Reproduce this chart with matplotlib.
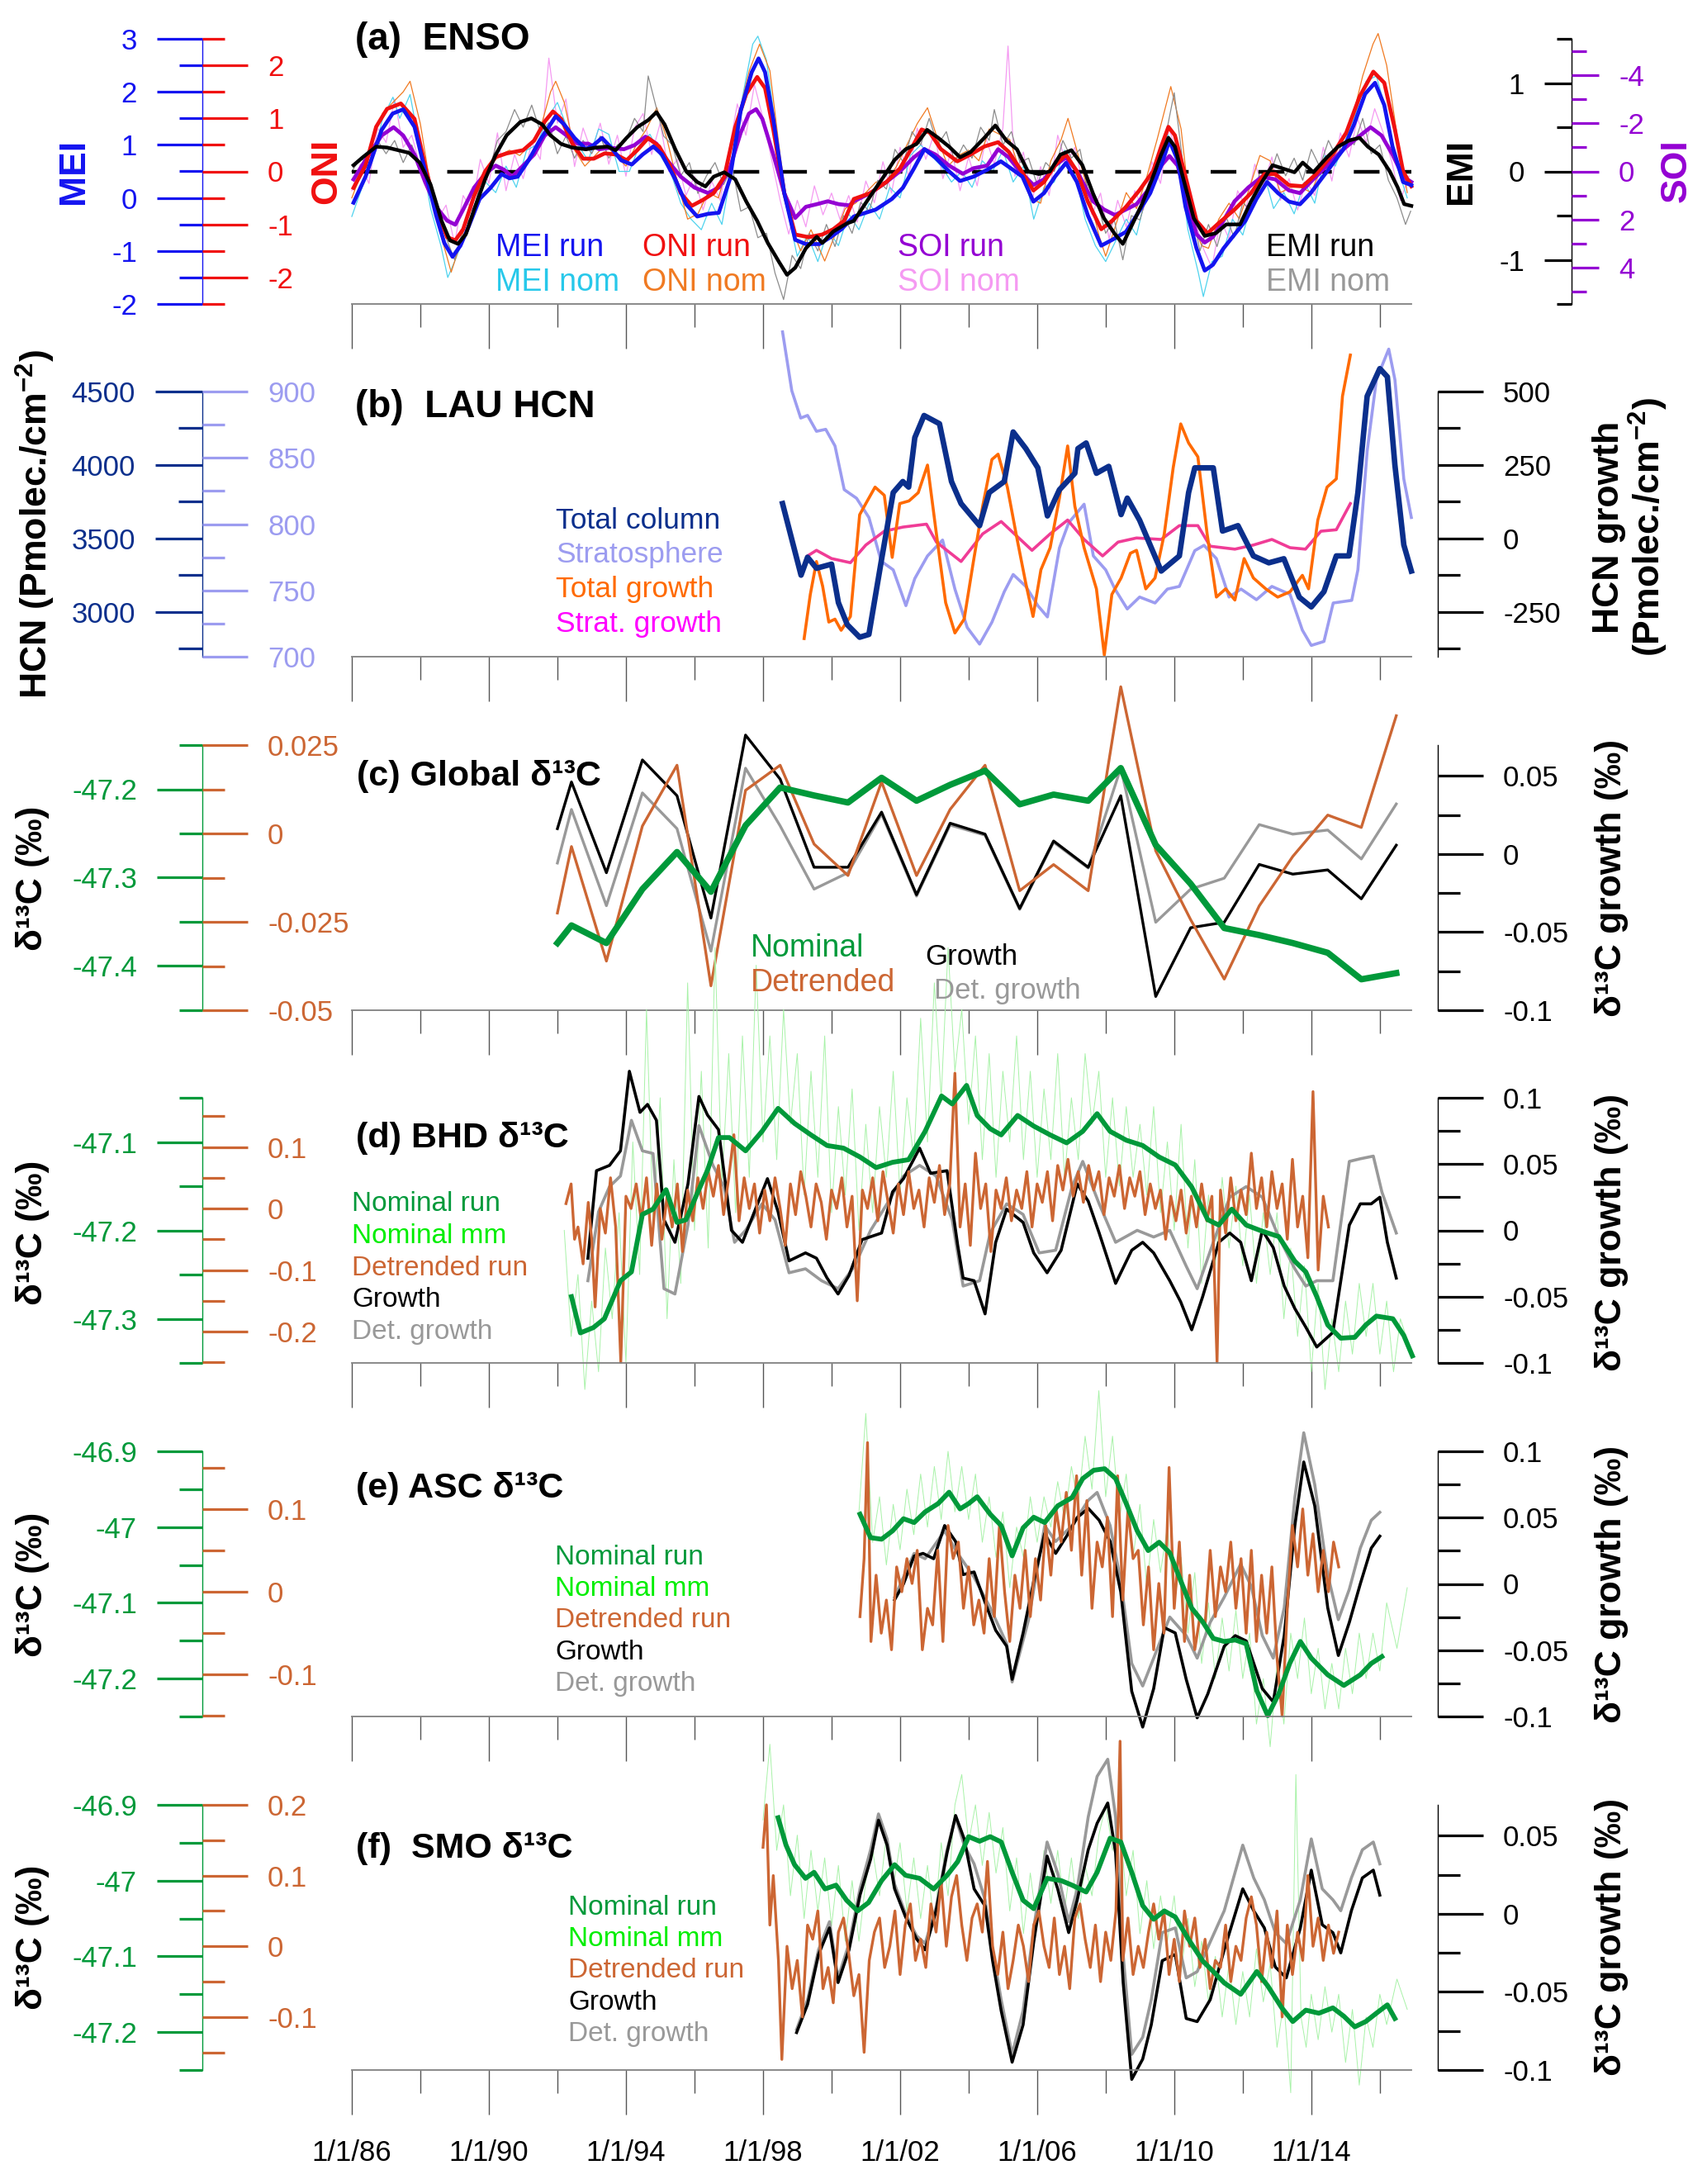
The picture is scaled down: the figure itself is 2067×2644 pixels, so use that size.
import numpy as np
import matplotlib
matplotlib.use('Agg')
import matplotlib.pyplot as plt

plt.rcParams['font.family'] = ['Liberation Sans', 'DejaVu Sans']
plt.rcParams['axes.unicode_minus'] = False
plt.rcParams['mathtext.fontset'] = 'custom'
plt.rcParams['mathtext.rm'] = 'Liberation Sans'
plt.rcParams['mathtext.bf'] = 'Liberation Sans:bold'

# ---------------- DATA ----------------
major_years = [1986, 1990, 1994, 1998, 2002, 2006, 2010, 2014]
minor_years = [1988, 1992, 1996, 2000, 2004, 2008, 2012, 2016]
date_labels = ['1/1/86', '1/1/90', '1/1/94', '1/1/98', '1/1/02', '1/1/06', '1/1/10', '1/1/14']

# (a) ENSO
mei_run = [(1986.05,-0.09),(1986.4,0.40),(1986.87,1.28),(1987.19,1.59),(1987.5,1.67),(1987.83,1.34),(1988.14,0.50),(1988.46,-0.33),(1988.7,-0.85),(1988.94,-1.11),(1989.17,-0.90),(1989.41,-0.54),(1989.73,-0.02),(1990.05,0.19),(1990.37,0.45),(1990.6,0.37),(1990.84,0.40),(1991.16,0.71),(1991.48,1.08),(1991.8,1.39),(1991.95,1.54),(1992.19,1.39),(1992.5,1.13),(1992.83,0.92),(1993.06,1.0),(1993.3,1.13),(1993.54,0.97),(1993.86,0.71),(1994.17,0.63),(1994.49,0.82),(1994.8,0.97),(1995.05,0.82),(1995.44,0.35),(1995.76,-0.12),(1996.08,-0.35),(1996.4,-0.30),(1996.71,-0.28),(1997.03,0.35),(1997.35,1.65),(1997.67,2.37),(1997.87,2.63),(1998.06,2.37),(1998.3,1.49),(1998.62,0.09),(1998.94,-0.79),(1999.25,-0.87),(1999.65,-0.87),(1999.97,-0.74),(2000.29,-0.59),(2000.65,-0.35),(2001.29,-0.22),(2001.76,-0.02),(2002.08,0.19),(2002.4,0.55),(2002.71,0.92),(2003.03,0.76),(2003.43,0.5),(2003.75,0.32),(2004.14,0.40),(2004.54,0.53),(2004.94,0.69),(2005.25,0.55),(2005.57,0.40),(2005.89,-0.07),(2006.2,0.09),(2006.52,0.40),(2006.84,0.66),(2007.16,0.30),(2007.48,-0.33),(2007.87,-0.90),(2008.19,-0.79),(2008.59,-0.64),(2008.9,-0.33),(2009.3,0.09),(2009.62,0.61),(2009.86,1.08),(2010.1,0.71),(2010.33,-0.17),(2010.65,-0.95),(2010.89,-1.37),(2011.13,-1.26),(2011.44,-0.95),(2011.76,-0.69),(2012.08,-0.43),(2012.4,-0.02),(2012.71,0.30),(2013.03,0.09),(2013.35,-0.07),(2013.67,-0.12),(2013.98,0.09),(2014.46,0.50),(2014.94,0.92),(2015.25,1.39),(2015.57,1.96),(2015.86,2.17),(2016.13,1.75),(2016.37,0.97),(2016.68,0.30),(2016.92,0.24)]
mei_nom = [(1986.0,-0.35),(1986.3,0.2),(1986.6,0.7),(1986.9,1.5),(1987.2,1.9),(1987.4,1.5),(1987.7,1.95),(1988.0,0.9),(1988.3,-0.2),(1988.6,-0.9),(1988.8,-1.5),(1989.0,-1.2),(1989.3,-0.7),(1989.6,-0.1),(1989.9,0.3),(1990.2,0.1),(1990.5,0.6),(1990.8,0.2),(1991.1,0.9),(1991.4,1.0),(1991.7,1.5),(1992.0,1.8),(1992.3,1.3),(1992.6,1.0),(1992.9,0.7),(1993.2,1.3),(1993.5,1.2),(1993.8,0.5),(1994.1,0.5),(1994.4,1.0),(1994.7,1.2),(1995.0,0.8),(1995.3,0.5),(1995.6,-0.1),(1995.9,-0.4),(1996.2,-0.6),(1996.5,-0.1),(1996.8,-0.5),(1997.1,0.6),(1997.4,1.9),(1997.7,2.9),(1997.85,3.05),(1998.1,2.6),(1998.4,1.2),(1998.7,-0.2),(1999.0,-1.1),(1999.3,-0.7),(1999.6,-1.2),(1999.9,-0.6),(2000.2,-0.9),(2000.5,-0.3),(2000.8,-0.6),(2001.1,-0.1),(2001.4,-0.4),(2001.7,0.2),(2002.0,0.0),(2002.3,0.8),(2002.6,1.0),(2002.9,0.8),(2003.2,0.6),(2003.5,0.3),(2003.8,0.5),(2004.1,0.2),(2004.4,0.7),(2004.7,0.5),(2005.0,0.9),(2005.3,0.3),(2005.6,0.6),(2005.9,-0.4),(2006.2,0.2),(2006.5,0.3),(2006.8,0.9),(2007.1,0.5),(2007.4,-0.4),(2007.7,-0.9),(2008.0,-1.2),(2008.3,-0.8),(2008.6,-0.4),(2008.9,-0.7),(2009.2,0.1),(2009.5,0.4),(2009.8,1.2),(2010.1,0.9),(2010.4,-0.6),(2010.7,-1.4),(2010.85,-1.86),(2011.1,-1.2),(2011.4,-1.1),(2011.7,-0.4),(2012.0,-0.7),(2012.3,0.0),(2012.6,0.5),(2012.9,-0.2),(2013.2,0.1),(2013.5,-0.3),(2013.8,0.3),(2014.1,-0.1),(2014.4,0.8),(2014.7,0.6),(2015.0,1.1),(2015.3,1.6),(2015.6,2.2),(2015.9,2.3),(2016.2,1.6),(2016.5,0.6),(2016.8,0.0)]
oni_run = [(1986.05,-0.31),(1986.4,0.11),(1986.71,0.84),(1987.03,1.18),(1987.43,1.28),(1987.83,0.99),(1988.14,0.11),(1988.46,-0.72),(1988.78,-1.24),(1989.02,-1.30),(1989.25,-1.09),(1989.57,-0.46),(1989.89,0.0),(1990.2,0.27),(1990.52,0.34),(1991.0,0.40),(1991.32,0.58),(1991.63,0.94),(1991.87,1.13),(1992.11,0.99),(1992.43,0.53),(1992.75,0.24),(1993.06,0.24),(1993.38,0.34),(1993.7,0.32),(1994.02,0.21),(1994.33,0.40),(1994.65,0.63),(1994.97,0.47),(1995.29,0.11),(1995.6,-0.41),(1995.92,-0.65),(1996.24,-0.54),(1996.56,-0.41),(1996.87,-0.10),(1997.19,0.84),(1997.51,1.46),(1997.83,1.78),(1998.06,1.57),(1998.3,0.79),(1998.62,-0.41),(1998.94,-1.19),(1999.33,-1.24),(1999.73,-1.19),(2000.05,-1.09),(2000.37,-0.93),(2000.65,-0.52),(2001.13,-0.41),(2001.6,-0.20),(2002.0,0.06),(2002.32,0.42),(2002.63,0.79),(2002.87,0.73),(2003.19,0.42),(2003.67,0.19),(2004.06,0.32),(2004.46,0.47),(2004.86,0.55),(2005.17,0.37),(2005.49,0.06),(2005.89,-0.36),(2006.2,-0.20),(2006.52,0.11),(2006.84,0.32),(2007.16,0.0),(2007.48,-0.57),(2007.87,-1.09),(2008.19,-0.93),(2008.59,-0.67),(2008.98,-0.36),(2009.38,0.0),(2009.62,0.47),(2009.83,0.84),(2010.02,0.68),(2010.33,-0.10),(2010.65,-0.93),(2010.97,-1.17),(2011.29,-0.98),(2011.76,-0.72),(2012.24,-0.41),(2012.63,-0.05),(2012.95,-0.05),(2013.35,-0.26),(2013.75,-0.28),(2014.14,-0.05),(2014.62,0.32),(2015.02,0.73),(2015.41,1.41),(2015.81,1.88),(2016.13,1.67),(2016.44,0.79),(2016.68,0.0),(2016.92,-0.28)]
oni_nom = [(1986.0,-0.5),(1986.3,0.0),(1986.6,0.6),(1986.9,1.1),(1987.2,1.3),(1987.5,1.5),(1987.7,1.7),(1988.0,0.9),(1988.3,-0.3),(1988.6,-1.2),(1988.9,-1.9),(1989.1,-1.5),(1989.4,-0.8),(1989.7,-0.3),(1990.0,0.1),(1990.3,0.3),(1990.6,0.4),(1990.9,0.3),(1991.2,0.5),(1991.5,0.8),(1991.8,1.5),(1991.95,1.7),(1992.2,1.3),(1992.5,0.4),(1992.8,0.1),(1993.1,0.3),(1993.4,0.5),(1993.7,0.3),(1994.0,0.1),(1994.3,0.5),(1994.6,0.8),(1994.9,1.2),(1995.2,0.6),(1995.5,-0.2),(1995.8,-0.9),(1996.1,-0.8),(1996.4,-0.4),(1996.7,-0.5),(1997.0,0.2),(1997.3,1.1),(1997.6,1.9),(1997.9,2.4),(1998.2,1.9),(1998.5,0.3),(1998.8,-1.0),(1999.1,-1.5),(1999.4,-1.1),(1999.8,-1.69),(2000.1,-1.2),(2000.4,-0.7),(2000.7,-0.6),(2001.0,-0.4),(2001.3,-0.2),(2001.6,-0.2),(2001.9,0.1),(2002.2,0.5),(2002.5,0.9),(2002.8,1.2),(2003.1,0.6),(2003.4,0.1),(2003.7,0.3),(2004.0,0.4),(2004.3,0.2),(2004.6,0.8),(2004.9,0.7),(2005.2,0.6),(2005.5,0.0),(2005.8,-0.5),(2006.1,-0.6),(2006.4,0.2),(2006.7,0.6),(2006.9,1.0),(2007.2,0.3),(2007.5,-0.4),(2007.8,-1.2),(2008.0,-1.6),(2008.3,-1.0),(2008.6,-0.4),(2008.9,-0.7),(2009.2,-0.1),(2009.5,0.6),(2009.9,1.6),(2010.2,0.8),(2010.5,-0.9),(2010.8,-1.4),(2011.0,-1.45),(2011.3,-0.9),(2011.6,-0.6),(2011.9,-0.9),(2012.2,-0.3),(2012.5,0.3),(2012.8,0.2),(2013.1,-0.4),(2013.4,-0.3),(2013.7,-0.3),(2014.0,-0.4),(2014.3,0.1),(2014.6,0.2),(2014.9,0.6),(2015.2,1.0),(2015.5,1.8),(2015.8,2.4),(2015.95,2.6),(2016.2,2.0),(2016.5,0.7),(2016.8,-0.4)]
soi_run = [(1986.05,0.33),(1986.4,-0.47),(1986.87,-1.49),(1987.22,-1.83),(1987.5,-1.49),(1987.83,-0.70),(1988.14,0.44),(1988.46,1.47),(1988.78,2.04),(1989.02,2.21),(1989.25,1.58),(1989.57,0.67),(1989.89,0.10),(1990.2,-0.24),(1990.44,-0.07),(1990.68,0.22),(1991.0,-0.24),(1991.32,-0.70),(1991.63,-1.49),(1991.95,-1.83),(1992.27,-1.49),(1992.59,-1.15),(1992.9,-1.15),(1993.22,-0.92),(1993.54,-0.98),(1993.94,-0.92),(1994.25,-1.09),(1994.57,-1.44),(1994.89,-1.15),(1995.2,-0.47),(1995.6,0.22),(1996.0,0.67),(1996.4,0.90),(1996.71,0.67),(1997.03,-0.13),(1997.35,-1.61),(1997.59,-2.40),(1997.8,-2.58),(1997.98,-2.18),(1998.3,-0.70),(1998.62,0.90),(1998.94,1.93),(1999.25,1.47),(1999.57,1.36),(1999.89,1.24),(2000.21,1.36),(2000.52,1.41),(2000.65,1.24),(2001.13,0.90),(2001.6,0.44),(2002.0,-0.01),(2002.4,-0.58),(2002.71,-0.92),(2003.03,-0.70),(2003.43,-0.24),(2003.83,0.10),(2004.14,-0.13),(2004.54,-0.24),(2004.86,-0.92),(2005.17,-0.58),(2005.49,-0.01),(2005.89,0.56),(2006.2,0.33),(2006.52,-0.24),(2006.84,-0.58),(2007.16,-0.01),(2007.63,1.24),(2007.95,1.58),(2008.27,1.81),(2008.59,1.58),(2008.9,1.36),(2009.3,0.67),(2009.62,-0.24),(2009.86,-0.64),(2010.1,-0.24),(2010.41,1.36),(2010.65,2.61),(2010.89,2.95),(2011.13,2.72),(2011.44,2.04),(2011.76,1.24),(2012.16,0.67),(2012.56,0.22),(2012.95,0.33),(2013.35,0.79),(2013.67,0.90),(2013.98,0.44),(2014.46,-0.24),(2014.94,-0.92),(2015.33,-1.38),(2015.73,-1.83),(2016.05,-1.49),(2016.37,-0.70),(2016.68,0.22),(2016.92,0.44)]
soi_nom = [(1986.0,0.8),(1986.25,-0.3),(1986.5,0.5),(1986.75,-1.8),(1987.0,-1.2),(1987.25,-3.0),(1987.5,-1.0),(1987.75,-1.5),(1988.0,-0.2),(1988.25,0.2),(1988.5,2.0),(1988.75,1.4),(1989.0,3.0),(1989.25,1.0),(1989.5,1.6),(1989.75,-0.5),(1990.0,0.5),(1990.25,-1.6),(1990.5,0.8),(1990.75,-0.7),(1991.0,0.3),(1991.25,-1.2),(1991.5,-0.5),(1991.75,-4.7),(1992.0,-2.0),(1992.25,-3.0),(1992.5,-0.2),(1992.75,-1.8),(1993.0,-0.8),(1993.25,-2.0),(1993.5,-0.3),(1993.75,-1.5),(1994.0,0.2),(1994.25,-1.8),(1994.5,-2.4),(1994.75,-0.7),(1995.0,-2.0),(1995.25,0.0),(1995.5,-0.5),(1995.75,1.0),(1996.0,0.2),(1996.25,1.6),(1996.5,0.4),(1996.75,1.2),(1997.0,-0.8),(1997.25,-2.8),(1997.5,-1.5),(1997.75,-3.6),(1998.0,-2.2),(1998.25,-0.5),(1998.5,1.2),(1998.75,2.6),(1999.0,1.2),(1999.25,2.3),(1999.5,0.6),(1999.75,1.8),(2000.0,0.9),(2000.25,2.0),(2000.5,1.0),(2000.75,2.1),(2001.0,0.4),(2001.25,1.3),(2001.5,-0.4),(2001.75,0.9),(2002.0,-1.0),(2002.25,0.2),(2002.5,-1.8),(2002.75,-0.5),(2003.0,-1.6),(2003.25,0.3),(2003.5,-0.9),(2003.75,0.8),(2004.0,-0.6),(2004.25,0.6),(2004.5,-1.4),(2004.75,-0.3),(2005.0,-1.8),(2005.15,-5.2),(2005.35,0.2),(2005.6,-0.8),(2005.85,1.2),(2006.1,-0.2),(2006.35,1.0),(2006.6,-1.5),(2006.85,-0.3),(2007.1,-1.0),(2007.35,0.6),(2007.6,1.8),(2007.85,0.9),(2008.1,2.8),(2008.35,1.2),(2008.6,2.3),(2008.85,0.8),(2009.1,1.6),(2009.35,-0.4),(2009.6,0.5),(2009.85,-1.8),(2010.1,-0.6),(2010.35,0.6),(2010.6,2.0),(2010.85,3.2),(2011.1,4.0),(2011.35,2.0),(2011.6,2.8),(2011.85,0.8),(2012.1,1.5),(2012.35,-0.3),(2012.6,0.6),(2012.85,-0.6),(2013.1,1.2),(2013.35,0.3),(2013.6,1.6),(2013.85,0.4),(2014.1,1.0),(2014.35,-1.0),(2014.6,0.4),(2014.85,-1.6),(2015.1,-0.6),(2015.35,-2.2),(2015.6,-1.2),(2015.85,-2.6),(2016.1,-1.6),(2016.35,-0.4),(2016.6,1.2),(2016.85,0.2)]
emi_run = [(1986.05,0.07),(1986.32,0.16),(1986.71,0.28),(1987.03,0.27),(1987.35,0.24),(1987.67,0.21),(1987.98,0.10),(1988.3,-0.15),(1988.62,-0.56),(1988.86,-0.78),(1989.1,-0.82),(1989.33,-0.71),(1989.57,-0.43),(1989.89,-0.09),(1990.2,0.19),(1990.52,0.41),(1990.92,0.56),(1991.24,0.60),(1991.56,0.53),(1991.79,0.41),(1992.11,0.31),(1992.43,0.27),(1992.83,0.25),(1993.14,0.27),(1993.46,0.28),(1993.7,0.24),(1994.02,0.38),(1994.33,0.50),(1994.65,0.58),(1994.89,0.67),(1995.13,0.53),(1995.44,0.25),(1995.76,0.0),(1996.08,-0.12),(1996.32,-0.17),(1996.56,-0.06),(1996.87,-0.01),(1997.19,-0.09),(1997.51,-0.34),(1997.83,-0.56),(1998.14,-0.81),(1998.46,-1.02),(1998.7,-1.17),(1998.94,-1.09),(1999.25,-0.87),(1999.57,-0.74),(1999.73,-0.81),(2000.05,-0.68),(2000.44,-0.59),(2000.65,-0.56),(2001.13,-0.28),(2001.52,-0.06),(2001.84,0.13),(2002.16,0.25),(2002.48,0.31),(2002.79,0.47),(2003.11,0.38),(2003.43,0.28),(2003.75,0.16),(2004.06,0.22),(2004.46,0.38),(2004.78,0.52),(2005.1,0.35),(2005.41,0.25),(2005.73,0.0),(2006.05,-0.03),(2006.37,0.0),(2006.68,0.19),(2007.0,0.24),(2007.32,0.07),(2007.63,-0.25),(2007.95,-0.53),(2008.27,-0.71),(2008.5,-0.82),(2008.75,-0.62),(2009.06,-0.37),(2009.38,-0.06),(2009.62,0.19),(2009.83,0.38),(2010.02,0.28),(2010.25,-0.06),(2010.57,-0.53),(2010.89,-0.73),(2011.21,-0.70),(2011.52,-0.60),(2011.92,-0.60),(2012.24,-0.34),(2012.56,-0.12),(2012.87,0.07),(2013.19,0.03),(2013.51,-0.01),(2013.75,0.10),(2014.06,-0.01),(2014.46,0.16),(2014.78,0.28),(2015.1,0.35),(2015.41,0.38),(2015.65,0.28),(2015.97,0.19),(2016.29,0.0),(2016.52,-0.18),(2016.71,-0.37),(2016.92,-0.39)]
emi_nom = [(1986.0,0.0),(1986.25,0.15),(1986.5,0.1),(1986.75,0.35),(1987.0,0.2),(1987.25,0.35),(1987.5,0.1),(1987.75,0.3),(1988.0,0.05),(1988.25,-0.05),(1988.5,-0.4),(1988.75,-0.75),(1989.0,-1.0),(1989.25,-0.65),(1989.5,-0.5),(1989.75,-0.15),(1990.0,0.0),(1990.25,0.35),(1990.5,0.45),(1990.75,0.7),(1991.0,0.5),(1991.25,0.75),(1991.5,0.45),(1991.75,0.55),(1992.0,0.2),(1992.25,0.4),(1992.5,0.15),(1992.75,0.35),(1993.0,0.2),(1993.25,0.4),(1993.5,0.15),(1993.75,0.3),(1994.0,0.35),(1994.25,0.6),(1994.5,0.45),(1994.65,1.08),(1994.9,0.7),(1995.1,0.4),(1995.35,0.3),(1995.6,-0.05),(1995.85,0.1),(1996.1,-0.25),(1996.35,-0.05),(1996.6,0.1),(1996.85,-0.15),(1997.1,0.05),(1997.35,-0.45),(1997.6,-0.4),(1997.85,-0.75),(1998.1,-0.7),(1998.35,-1.15),(1998.6,-1.45),(1998.85,-0.95),(1999.1,-1.1),(1999.35,-0.7),(1999.6,-0.9),(1999.85,-0.6),(2000.1,-0.85),(2000.35,-0.5),(2000.6,-0.7),(2000.85,-0.35),(2001.1,-0.45),(2001.35,-0.1),(2001.6,-0.2),(2001.85,0.25),(2002.1,0.1),(2002.35,0.45),(2002.6,0.3),(2002.85,0.6),(2003.1,0.3),(2003.35,0.45),(2003.6,0.1),(2003.85,0.3),(2004.1,0.15),(2004.35,0.5),(2004.6,0.35),(2004.75,0.7),(2005.0,0.3),(2005.25,0.45),(2005.5,0.1),(2005.75,0.15),(2006.0,-0.15),(2006.25,0.1),(2006.5,0.0),(2006.75,0.35),(2007.0,0.15),(2007.25,0.25),(2007.5,-0.25),(2007.75,-0.35),(2008.0,-0.7),(2008.25,-0.55),(2008.5,-1.0),(2008.75,-0.5),(2009.0,-0.55),(2009.25,-0.2),(2009.5,0.05),(2009.75,0.4),(2010.0,0.89),(2010.25,0.1),(2010.5,-0.4),(2010.75,-0.9),(2011.0,-0.6),(2011.25,-0.85),(2011.5,-0.5),(2011.75,-0.75),(2012.0,-0.35),(2012.25,-0.45),(2012.5,0.0),(2012.75,-0.1),(2013.0,0.2),(2013.25,-0.05),(2013.5,0.15),(2013.75,-0.1),(2014.0,0.25),(2014.25,0.05),(2014.5,0.35),(2014.75,0.15),(2015.0,0.45),(2015.25,0.3),(2015.5,0.6),(2015.75,0.2),(2016.0,0.3),(2016.25,-0.1),(2016.5,-0.3),(2016.75,-0.6),(2016.9,-0.45)]

# (b) LAU HCN
hcn_total = [(1998.57,3738),(1999.11,3251),(1999.3,3373),(1999.56,3298),(2000.0,3326),(2000.2,3064),(2000.46,2914),(2000.82,2829),(2001.09,2848),(2001.45,3345),(2001.8,3813),(2002.08,3888),(2002.25,3850),(2002.43,4187),(2002.7,4337),(2003.15,4281),(2003.5,3888),(2003.78,3738),(2004.32,3588),(2004.6,3813),(2005.04,3888),(2005.3,4225),(2005.67,4112),(2006.02,3981),(2006.3,3654),(2006.65,3832),(2007.1,3944),(2007.19,4112),(2007.43,4150),(2007.73,3944),(2008.09,3991),(2008.45,3663),(2008.63,3775),(2008.99,3625),(2009.62,3279),(2010.15,3382),(2010.42,3813),(2010.6,3981),(2011.14,3981),(2011.41,3551),(2011.86,3588),(2012.31,3382),(2012.76,3335),(2013.2,3363),(2013.65,3101),(2014.0,3035),(2014.37,3139),(2014.73,3382),(2015.1,3382),(2015.36,3813),(2015.63,4468),(2016.0,4656),(2016.22,4600),(2016.44,4000),(2016.7,3457),(2016.92,3279)]
hcn_strat = [(1998.57,945),(1998.84,900.6),(1999.1,880),(1999.3,882),(1999.56,870),(1999.83,871.5),(2000.1,859),(2000.37,826),(2000.73,819.5),(2001.09,805),(2001.45,772),(2001.8,765.5),(2002.17,738.5),(2002.43,759),(2002.8,776),(2003.24,788),(2003.6,751),(2003.96,722),(2004.32,709.5),(2004.68,726),(2005.04,749),(2005.3,762),(2005.67,753),(2006.02,738.5),(2006.3,730),(2006.65,782),(2006.92,801),(2007.37,815),(2007.64,776),(2008.0,765.5),(2008.27,751),(2008.63,736),(2008.99,745),(2009.44,740.5),(2009.8,751),(2010.15,753),(2010.6,780),(2010.87,784),(2011.23,774),(2011.6,745),(2011.95,751),(2012.4,743),(2012.85,753),(2013.38,747),(2013.74,720),(2014.0,708.5),(2014.37,711.5),(2014.64,740.5),(2015.18,742.5),(2015.36,765.5),(2015.63,855),(2015.9,909),(2016.26,932),(2016.44,909),(2016.7,834),(2016.92,805)]
hcn_total_growth = [(1999.2,-340),(1999.38,-190),(1999.56,-78),(1999.74,-162),(1999.92,-284),(2000.1,-274),(2000.28,-312),(2000.55,-265),(2000.82,81),(2001.0,119),(2001.27,175),(2001.54,147),(2001.77,-64),(2001.99,119),(2002.26,128),(2002.53,156),(2002.8,250),(2003.06,16),(2003.33,-218),(2003.6,-321),(2003.87,-274),(2004.14,-78),(2004.41,110),(2004.68,269),(2004.86,287),(2005.13,175),(2005.4,7),(2005.67,-153),(2005.88,-265),(2006.11,-106),(2006.38,-31),(2006.65,138),(2006.89,315),(2007.1,110),(2007.37,-31),(2007.73,-171),(2007.96,-396),(2008.18,-190),(2008.45,-134),(2008.72,-50),(2008.9,-40),(2009.17,-171),(2009.44,-134),(2009.71,16),(2009.97,241),(2010.19,390),(2010.42,325),(2010.69,278),(2010.96,16),(2011.23,-199),(2011.5,-171),(2011.77,-209),(2012.04,-68),(2012.31,-134),(2012.67,-171),(2013.02,-199),(2013.38,-181),(2013.74,-125),(2013.92,-171),(2014.19,63),(2014.46,175),(2014.73,203),(2014.91,484),(2015.14,624)]
hcn_strat_growth = [(1999.3,-59),(1999.56,-40),(2000.0,-68),(2000.55,-82),(2001.0,-22),(2001.54,25),(2002.08,39),(2002.77,49),(2003.06,-12),(2003.78,-78),(2004.41,16),(2004.95,58),(2005.85,-40),(2006.38,16),(2006.89,63),(2007.37,-3),(2007.91,-59),(2008.36,-12),(2008.9,2),(2009.62,-3),(2010.15,44),(2010.69,44),(2011.05,-26),(2011.77,-36),(2012.31,-22),(2012.85,-3),(2013.38,-31),(2013.83,-36),(2014.28,25),(2014.73,30),(2015.14,119)]

# (c) Global d13C (annual)
glob_t = [1992.0, 1992.41, 1993.43, 1994.48, 1995.49, 1996.48, 1997.49, 1998.5, 1999.49, 2000.48, 2001.46, 2002.48, 2003.46, 2004.48, 2005.49, 2006.48, 2007.49, 2008.44, 2009.46, 2010.48, 2011.46, 2012.48, 2013.46, 2014.48, 2015.46, 2016.48]
glob_nominal = [-47.374, -47.354, -47.374, -47.313, -47.271, -47.316, -47.241, -47.198, -47.207, -47.215, -47.187, -47.213, -47.195, -47.179, -47.217, -47.206, -47.213, -47.176, -47.263, -47.307, -47.357, -47.365, -47.374, -47.385, -47.415, -47.408]
glob_detrended = [-0.0225, -0.0037, -0.0361, 0.0021, 0.0193, -0.0431, 0.0122, 0.0193, -0.0030, -0.0119, 0.0146, -0.0119, 0.0068, 0.0193, -0.0162, -0.0088, -0.0162, 0.0415, -0.0049, -0.0244, -0.0412, -0.0205, -0.0065, 0.0052, 0.0017, 0.0333]
glob_growth = [0.0162, 0.0461, -0.0120, 0.0602, 0.0373, -0.0410, 0.0761, 0.0479, -0.0085, -0.0085, 0.0268, -0.0261, 0.0197, 0.0127, -0.0349, 0.0083, -0.0085, 0.0373, -0.0912, -0.0472, -0.0437, -0.0067, -0.0129, -0.0102, -0.0287, 0.0056]
glob_det_growth = [-0.0058, 0.0285, -0.0331, 0.0391, 0.0162, -0.0622, 0.0549, 0.018, -0.0225, -0.012, 0.0255, -0.027, 0.0185, 0.012, -0.0355, 0.0075, -0.009, 0.055, -0.0437, -0.0225, -0.0155, 0.0188, 0.0127, 0.0153, -0.0032, 0.032]

# (d) BHD d13C
bhd_nom_run = [(1992.41,-47.275),(1992.67,-47.316),(1993.05,-47.310),(1993.37,-47.300),(1993.84,-47.257),(1994.16,-47.247),(1994.48,-47.182),(1994.79,-47.176),(1995.17,-47.154),(1995.49,-47.191),(1995.75,-47.188),(1996.06,-47.160),(1996.38,-47.132),(1996.7,-47.095),(1997.02,-47.095),(1997.49,-47.110),(1997.97,-47.088),(1998.44,-47.062),(1998.92,-47.079),(1999.4,-47.092),(1999.87,-47.104),(2000.35,-47.107),(2000.83,-47.117),(2001.3,-47.129),(2001.78,-47.123),(2002.25,-47.120),(2002.73,-47.088),(2003.21,-47.048),(2003.52,-47.057),(2003.94,-47.036),(2004.25,-47.070),(2004.63,-47.085),(2004.95,-47.092),(2005.43,-47.070),(2005.9,-47.082),(2006.38,-47.092),(2006.86,-47.101),(2007.33,-47.088),(2007.75,-47.068),(2008.13,-47.088),(2008.6,-47.098),(2009.08,-47.104),(2009.56,-47.117),(2010.03,-47.126),(2010.51,-47.151),(2010.98,-47.188),(2011.3,-47.194),(2011.68,-47.176),(2012.1,-47.194),(2012.57,-47.201),(2013.05,-47.207),(2013.52,-47.235),(2013.84,-47.247),(2014.16,-47.275),(2014.48,-47.307),(2014.86,-47.322),(2015.27,-47.321),(2015.59,-47.307),(2015.9,-47.297),(2016.38,-47.300),(2016.7,-47.319),(2016.95,-47.342)]
bhd_nom_mm = [(1992.2,-47.20),(1992.4,-47.32),(1992.6,-47.25),(1992.8,-47.38),(1993.0,-47.28),(1993.2,-47.36),(1993.4,-47.22),(1993.6,-47.30),(1993.8,-47.18),(1994.0,-47.35),(1994.2,-47.10),(1994.4,-47.25),(1994.6,-46.95),(1994.8,-47.20),(1995.0,-47.05),(1995.2,-47.30),(1995.4,-47.12),(1995.6,-47.26),(1995.8,-46.92),(1996.0,-47.20),(1996.2,-47.02),(1996.4,-47.22),(1996.6,-46.88),(1996.8,-47.15),(1997.0,-47.00),(1997.2,-47.18),(1997.4,-46.98),(1997.6,-47.14),(1997.8,-46.90),(1998.0,-47.10),(1998.2,-46.98),(1998.4,-47.12),(1998.6,-46.95),(1998.8,-47.08),(1999.0,-47.00),(1999.2,-47.16),(1999.4,-47.02),(1999.6,-47.14),(1999.8,-46.98),(2000.0,-47.18),(2000.2,-47.06),(2000.4,-47.16),(2000.6,-47.04),(2000.8,-47.20),(2001.0,-47.08),(2001.2,-47.18),(2001.4,-47.06),(2001.6,-47.14),(2001.8,-47.02),(2002.0,-47.16),(2002.2,-47.05),(2002.4,-47.12),(2002.6,-46.96),(2002.8,-47.10),(2003.0,-46.92),(2003.2,-47.05),(2003.4,-46.88),(2003.6,-47.02),(2003.8,-46.95),(2004.0,-47.08),(2004.2,-46.98),(2004.4,-47.12),(2004.6,-47.00),(2004.8,-47.14),(2005.0,-47.02),(2005.2,-47.10),(2005.4,-46.98),(2005.6,-47.12),(2005.8,-47.02),(2006.0,-47.14),(2006.2,-47.04),(2006.4,-47.12),(2006.6,-47.00),(2006.8,-47.14),(2007.0,-47.05),(2007.2,-47.12),(2007.4,-47.00),(2007.6,-47.08),(2007.8,-47.02),(2008.0,-47.14),(2008.2,-47.05),(2008.4,-47.15),(2008.6,-47.06),(2008.8,-47.14),(2009.0,-47.08),(2009.2,-47.16),(2009.4,-47.06),(2009.6,-47.18),(2009.8,-47.10),(2010.0,-47.20),(2010.2,-47.08),(2010.4,-47.22),(2010.6,-47.12),(2010.8,-47.26),(2011.0,-47.16),(2011.2,-47.24),(2011.4,-47.14),(2011.6,-47.22),(2011.8,-47.15),(2012.0,-47.24),(2012.2,-47.16),(2012.4,-47.26),(2012.6,-47.18),(2012.8,-47.25),(2013.0,-47.18),(2013.2,-47.30),(2013.4,-47.22),(2013.6,-47.32),(2013.8,-47.24),(2014.0,-47.36),(2014.2,-47.26),(2014.4,-47.38),(2014.6,-47.30),(2014.8,-47.36),(2015.0,-47.28),(2015.2,-47.34),(2015.4,-47.26),(2015.6,-47.32),(2015.8,-47.26),(2016.0,-47.34),(2016.2,-47.28),(2016.4,-47.36),(2016.6,-47.30),(2016.85,-47.33)]
bhd_det_run = [(1992.25,0.008),(1992.4,0.04),(1992.5,-0.05),(1992.6,-0.03),(1992.75,-0.09),(1992.9,0.01),(1993.0,-0.05),(1993.1,-0.16),(1993.25,0.0),(1993.4,-0.04),(1993.55,0.05),(1993.7,-0.03),(1993.85,-0.25),(1994.0,0.02),(1994.15,0.0),(1994.3,0.04),(1994.45,-0.02),(1994.6,0.05),(1994.75,-0.06),(1994.9,0.04),(1995.05,-0.05),(1995.2,0.02),(1995.35,-0.03),(1995.5,0.04),(1995.65,-0.07),(1995.8,0.03),(1995.95,-0.02),(1996.1,0.05),(1996.25,0.0),(1996.4,0.06),(1996.55,0.02),(1996.7,0.07),(1996.85,-0.01),(1997.0,0.05),(1997.15,0.12),(1997.3,-0.02),(1997.45,0.05),(1997.6,0.0),(1997.75,0.04),(1997.9,-0.04),(1998.05,0.03),(1998.2,-0.02),(1998.35,0.05),(1998.5,0.0),(1998.65,-0.06),(1998.8,0.04),(1998.95,-0.01),(1999.1,0.06),(1999.25,0.02),(1999.4,-0.03),(1999.55,0.04),(1999.7,0.01),(1999.85,-0.05),(2000.0,0.03),(2000.15,0.0),(2000.3,0.05),(2000.45,-0.03),(2000.6,0.02),(2000.75,-0.15),(2000.9,0.03),(2001.05,0.0),(2001.2,0.05),(2001.35,-0.02),(2001.5,0.06),(2001.65,0.01),(2001.8,-0.04),(2001.95,0.04),(2002.1,-0.01),(2002.25,0.06),(2002.4,0.0),(2002.55,0.03),(2002.7,-0.03),(2002.85,0.05),(2003.0,0.01),(2003.15,0.07),(2003.3,-0.01),(2003.45,0.04),(2003.6,0.22),(2003.75,-0.03),(2003.9,0.04),(2004.05,-0.06),(2004.2,0.09),(2004.35,0.0),(2004.5,0.04),(2004.65,-0.07),(2004.8,0.03),(2004.95,0.0),(2005.1,0.05),(2005.25,-0.02),(2005.4,0.03),(2005.55,0.0),(2005.7,0.06),(2005.85,-0.03),(2006.0,0.04),(2006.15,0.01),(2006.3,0.06),(2006.45,-0.02),(2006.6,0.07),(2006.75,0.03),(2006.9,0.08),(2007.05,0.02),(2007.2,0.06),(2007.35,0.01),(2007.5,0.07),(2007.65,0.03),(2007.8,0.06),(2007.95,-0.01),(2008.1,0.05),(2008.25,0.02),(2008.4,0.07),(2008.55,0.0),(2008.7,0.05),(2008.85,0.02),(2009.0,0.06),(2009.15,-0.01),(2009.3,0.04),(2009.45,0.0),(2009.6,0.03),(2009.75,-0.05),(2009.9,0.02),(2010.05,-0.02),(2010.2,0.03),(2010.35,-0.04),(2010.5,0.02),(2010.65,-0.03),(2010.8,0.04),(2010.95,-0.02),(2011.1,0.02),(2011.25,-0.25),(2011.35,0.03),(2011.5,-0.04),(2011.65,0.05),(2011.8,-0.02),(2011.95,0.03),(2012.1,-0.01),(2012.25,0.09),(2012.4,0.0),(2012.55,0.05),(2012.7,-0.03),(2012.85,0.06),(2013.0,0.0),(2013.15,0.04),(2013.3,-0.05),(2013.45,0.08),(2013.6,-0.03),(2013.75,0.02),(2013.9,-0.08),(2014.05,0.19),(2014.2,-0.1),(2014.35,0.02),(2014.5,-0.03)]
bhd_growth = [(1992.89,-0.021),(1993.14,0.045),(1993.52,0.049),(1993.84,0.060),(1994.1,0.120),(1994.41,0.089),(1994.63,0.095),(1994.89,0.083),(1995.11,0.008),(1995.43,-0.009),(1995.81,0.035),(1996.13,0.101),(1996.38,0.087),(1996.7,0.076),(1997.08,0.0),(1997.4,-0.009),(1997.81,0.018),(1998.13,0.039),(1998.44,0.014),(1998.76,-0.023),(1999.24,-0.017),(1999.56,-0.021),(1999.87,-0.036),(2000.19,-0.048),(2000.51,-0.034),(2000.89,-0.007),(2001.46,-0.002),(2001.78,0.029),(2002.1,0.039),(2002.57,0.062),(2002.89,0.043),(2003.37,0.045),(2003.68,-0.011),(2003.84,-0.036),(2004.16,-0.038),(2004.48,-0.063),(2004.79,-0.009),(2005.11,0.016),(2005.59,0.006),(2005.9,-0.017),(2006.29,-0.032),(2006.7,-0.015),(2007.17,0.035),(2007.49,0.022),(2007.81,-0.002),(2008.29,-0.040),(2008.76,-0.015),(2009.08,-0.009),(2009.4,-0.017),(2009.87,-0.038),(2010.19,-0.054),(2010.51,-0.075),(2010.83,-0.050),(2011.3,-0.009),(2011.62,-0.002),(2011.94,-0.009),(2012.25,-0.038),(2012.57,0.0),(2012.89,-0.013),(2013.21,-0.042),(2013.52,-0.059),(2013.84,-0.073),(2014.16,-0.088),(2014.63,-0.077),(2015.11,0.004),(2015.43,0.020),(2015.75,0.020),(2016.0,0.025),(2016.22,-0.009),(2016.48,-0.036)]
bhd_det_growth = [(1992.89,-0.038),(1993.2,0.014),(1993.52,0.033),(1993.84,0.041),(1994.16,0.083),(1994.48,0.060),(1994.79,0.058),(1995.11,-0.044),(1995.43,-0.048),(1995.81,0.004),(1996.13,0.079),(1996.54,0.049),(1996.86,0.033),(1997.17,-0.009),(1997.49,0.0),(1997.97,0.020),(1998.35,0.008),(1998.76,-0.032),(1999.24,-0.029),(1999.71,-0.038),(2000.19,-0.044),(2000.67,-0.027),(2001.14,0.0),(2001.62,0.020),(2002.1,0.041),(2002.57,0.049),(2003.05,0.041),(2003.52,0.008),(2003.84,-0.042),(2004.32,-0.038),(2004.63,-0.002),(2005.11,0.020),(2005.59,0.012),(2006.06,-0.017),(2006.54,-0.015),(2007.02,0.033),(2007.33,0.052),(2007.81,0.020),(2008.29,-0.009),(2008.92,0.0),(2009.4,-0.005),(2009.87,0.0),(2010.35,-0.027),(2010.67,-0.044),(2011.14,-0.009),(2011.62,0.025),(2012.1,0.033),(2012.57,0.025),(2013.05,-0.005),(2013.52,-0.029),(2013.84,-0.042),(2014.16,-0.038),(2014.63,-0.038),(2015.11,0.052),(2015.43,0.054),(2015.81,0.056),(2016.06,0.029),(2016.48,-0.002)]

# (e) ASC d13C
asc_nom_run = [(2000.83,-46.983),(2001.14,-47.014),(2001.46,-47.016),(2001.78,-47.005),(2002.1,-46.989),(2002.41,-46.994),(2002.73,-46.980),(2003.11,-46.969),(2003.43,-46.954),(2003.75,-46.976),(2004.0,-46.969),(2004.25,-46.960),(2004.63,-46.983),(2004.95,-46.998),(2005.27,-47.038),(2005.59,-47.001),(2005.9,-46.987),(2006.22,-46.994),(2006.6,-46.972),(2007.02,-46.961),(2007.33,-46.936),(2007.65,-46.925),(2007.97,-46.923),(2008.29,-46.936),(2008.6,-46.969),(2008.92,-47.005),(2009.24,-47.031),(2009.56,-47.020),(2009.87,-47.034),(2010.19,-47.071),(2010.51,-47.107),(2010.83,-47.125),(2011.14,-47.147),(2011.46,-47.151),(2011.78,-47.149),(2012.1,-47.154),(2012.41,-47.216),(2012.73,-47.249),(2013.05,-47.220),(2013.37,-47.180),(2013.68,-47.151),(2014.0,-47.173),(2014.48,-47.195),(2014.95,-47.209),(2015.43,-47.195),(2015.75,-47.180),(2016.06,-47.171)]
asc_nom_mm = [(2000.8,-46.98),(2001.0,-46.85),(2001.2,-47.02),(2001.4,-46.96),(2001.6,-47.05),(2001.8,-46.97),(2002.0,-47.03),(2002.2,-46.95),(2002.4,-47.01),(2002.6,-46.93),(2002.8,-47.00),(2003.0,-46.92),(2003.2,-46.99),(2003.4,-46.90),(2003.6,-46.98),(2003.8,-46.92),(2004.0,-46.99),(2004.2,-46.93),(2004.4,-47.02),(2004.6,-46.96),(2004.8,-47.04),(2005.0,-46.98),(2005.2,-47.08),(2005.4,-47.00),(2005.6,-47.04),(2005.8,-46.96),(2006.0,-47.02),(2006.2,-46.96),(2006.4,-47.00),(2006.6,-46.94),(2006.8,-46.99),(2007.0,-46.92),(2007.2,-46.97),(2007.4,-46.88),(2007.6,-46.95),(2007.8,-46.82),(2008.0,-46.96),(2008.2,-46.88),(2008.4,-46.99),(2008.6,-46.93),(2008.8,-47.04),(2009.0,-46.97),(2009.2,-47.08),(2009.4,-46.99),(2009.6,-47.06),(2009.8,-47.00),(2010.0,-47.10),(2010.2,-47.04),(2010.4,-47.14),(2010.6,-47.06),(2010.8,-47.18),(2011.0,-47.10),(2011.2,-47.20),(2011.4,-47.12),(2011.6,-47.19),(2011.8,-47.11),(2012.0,-47.20),(2012.2,-47.14),(2012.4,-47.26),(2012.6,-47.20),(2012.8,-47.29),(2013.0,-47.18),(2013.2,-47.26),(2013.4,-47.14),(2013.6,-47.20),(2013.8,-47.12),(2014.0,-47.22),(2014.2,-47.16),(2014.4,-47.24),(2014.6,-47.18),(2014.8,-47.24),(2015.0,-47.16),(2015.2,-47.22),(2015.4,-47.14),(2015.6,-47.20),(2015.8,-47.14),(2016.0,-47.19),(2016.2,-47.10),(2016.5,-47.16),(2016.8,-47.08)]
asc_det_run = [(2000.83,-0.03),(2000.95,0.04),(2001.05,0.18),(2001.15,-0.06),(2001.3,0.02),(2001.45,-0.05),(2001.6,-0.01),(2001.75,-0.07),(2001.9,0.03),(2002.05,0.0),(2002.2,0.04),(2002.35,0.01),(2002.5,0.05),(2002.65,-0.07),(2002.8,-0.02),(2002.95,-0.04),(2003.1,0.05),(2003.25,-0.06),(2003.4,0.08),(2003.55,0.04),(2003.7,0.06),(2003.85,-0.02),(2004.0,0.03),(2004.15,-0.04),(2004.3,-0.01),(2004.45,-0.05),(2004.6,0.04),(2004.75,-0.03),(2004.9,0.08),(2005.05,0.0),(2005.2,-0.06),(2005.35,0.02),(2005.5,-0.02),(2005.65,0.05),(2005.8,-0.03),(2005.95,0.04),(2006.1,-0.01),(2006.25,0.08),(2006.4,0.02),(2006.55,0.1),(2006.7,0.06),(2006.85,0.12),(2007.0,0.05),(2007.15,0.14),(2007.3,0.02),(2007.45,0.11),(2007.6,-0.02),(2007.75,0.06),(2007.9,0.03),(2008.05,0.09),(2008.2,-0.03),(2008.35,0.14),(2008.5,-0.01),(2008.65,0.1),(2008.8,0.04),(2008.95,0.05),(2009.1,-0.04),(2009.25,0.03),(2009.4,-0.07),(2009.55,0.01),(2009.7,-0.05),(2009.85,0.15),(2010.0,-0.02),(2010.15,0.06),(2010.3,-0.06),(2010.45,0.02),(2010.6,-0.07),(2010.75,-0.03),(2010.9,-0.04),(2011.05,0.05),(2011.2,-0.03),(2011.35,0.03),(2011.5,0.0),(2011.65,0.06),(2011.8,-0.02),(2011.95,0.04),(2012.1,-0.05),(2012.25,0.05),(2012.4,-0.06),(2012.55,0.02),(2012.7,-0.05),(2012.85,0.03),(2013.0,-0.08),(2013.15,-0.15),(2013.3,-0.02),(2013.45,0.08),(2013.6,0.03),(2013.75,0.1),(2013.9,0.02),(2014.05,0.07),(2014.2,0.0),(2014.35,0.05),(2014.5,0.0),(2014.65,0.06),(2014.8,0.03)]
asc_growth = [(2001.84,-0.012),(2002.1,0.0),(2002.41,0.021),(2002.67,0.023),(2002.98,0.019),(2003.3,0.044),(2003.62,0.032),(2003.84,0.007),(2004.16,0.009),(2004.48,-0.014),(2004.79,-0.035),(2005.11,-0.047),(2005.27,-0.072),(2005.59,-0.037),(2005.9,0.002),(2006.22,0.038),(2006.54,0.023),(2006.86,0.036),(2007.17,0.050),(2007.49,0.057),(2007.81,0.048),(2008.13,0.032),(2008.44,-0.006),(2008.76,-0.081),(2009.08,-0.108),(2009.4,-0.079),(2009.71,-0.033),(2010.03,-0.037),(2010.35,-0.072),(2010.67,-0.101),(2010.98,-0.083),(2011.46,-0.047),(2011.78,-0.039),(2012.1,-0.043),(2012.57,-0.079),(2012.89,-0.089),(2013.21,-0.039),(2013.52,0.044),(2013.78,0.092),(2014.1,0.059),(2014.48,-0.018),(2014.79,-0.054),(2015.11,-0.029),(2015.43,0.0),(2015.75,0.027),(2016.0,0.036)]
asc_det_growth = [(2001.84,-0.010),(2002.41,0.023),(2002.73,0.019),(2003.3,0.040),(2003.68,0.023),(2004.16,0.005),(2004.63,-0.018),(2005.11,-0.045),(2005.27,-0.074),(2005.75,-0.027),(2006.22,0.044),(2006.54,0.032),(2007.02,0.044),(2007.49,0.063),(2007.75,0.069),(2008.13,0.044),(2008.44,0.002),(2008.76,-0.060),(2009.08,-0.077),(2009.4,-0.056),(2009.87,-0.025),(2010.35,-0.039),(2010.67,-0.056),(2011.05,-0.029),(2011.46,-0.010),(2011.94,0.015),(2012.25,-0.002),(2012.57,-0.039),(2012.89,-0.056),(2013.21,-0.018),(2013.52,0.065),(2013.78,0.114),(2014.1,0.075),(2014.48,0.007),(2014.79,-0.027),(2015.11,-0.004),(2015.43,0.027),(2015.75,0.048),(2016.0,0.054)]

# (f) SMO d13C
smo_nom_run = [(1998.44,-46.917),(1998.67,-46.953),(1998.92,-46.979),(1999.24,-46.997),(1999.49,-46.989),(1999.81,-47.011),(2000.13,-47.006),(2000.44,-47.026),(2000.76,-47.040),(2001.08,-47.029),(2001.46,-47.000),(2001.84,-46.979),(2002.16,-46.993),(2002.57,-46.997),(2002.98,-47.011),(2003.37,-46.993),(2003.68,-46.975),(2004.0,-46.942),(2004.32,-46.948),(2004.63,-46.942),(2004.95,-46.949),(2005.27,-46.989),(2005.59,-47.026),(2005.9,-47.037),(2006.29,-46.997),(2006.7,-47.000),(2007.02,-47.006),(2007.43,-47.015),(2007.75,-46.989),(2008.13,-46.944),(2008.44,-46.949),(2008.76,-46.989),(2009.08,-47.033),(2009.4,-47.051),(2009.71,-47.040),(2010.03,-47.048),(2010.41,-47.077),(2010.83,-47.106),(2011.14,-47.120),(2011.46,-47.135),(2011.94,-47.150),(2012.41,-47.120),(2012.73,-47.139),(2013.14,-47.168),(2013.46,-47.186),(2013.84,-47.171),(2014.22,-47.175),(2014.63,-47.168),(2014.95,-47.179),(2015.27,-47.193),(2015.59,-47.186),(2015.9,-47.175),(2016.22,-47.164),(2016.44,-47.182)]
smo_nom_mm = [(1998.0,-46.92),(1998.2,-46.82),(1998.4,-46.96),(1998.6,-46.90),(1998.8,-47.02),(1999.0,-46.94),(1999.2,-47.05),(1999.4,-46.96),(1999.6,-47.04),(1999.8,-46.97),(2000.0,-47.06),(2000.2,-46.98),(2000.4,-47.08),(2000.6,-47.00),(2000.8,-47.08),(2001.0,-47.00),(2001.2,-46.96),(2001.4,-47.02),(2001.6,-46.94),(2001.8,-47.01),(2002.0,-46.95),(2002.2,-47.04),(2002.4,-46.97),(2002.6,-47.05),(2002.8,-46.98),(2003.0,-47.06),(2003.2,-46.95),(2003.4,-47.02),(2003.6,-46.90),(2003.8,-46.86),(2004.0,-46.95),(2004.2,-46.90),(2004.4,-46.98),(2004.6,-46.91),(2004.8,-46.99),(2005.0,-46.93),(2005.2,-47.04),(2005.4,-46.97),(2005.6,-47.07),(2005.8,-46.99),(2006.0,-47.06),(2006.2,-46.96),(2006.4,-47.03),(2006.6,-46.96),(2006.8,-47.04),(2007.0,-46.97),(2007.2,-47.05),(2007.4,-46.98),(2007.6,-47.02),(2007.8,-46.94),(2008.0,-46.90),(2008.2,-46.96),(2008.4,-46.92),(2008.6,-47.02),(2008.8,-46.96),(2009.0,-47.07),(2009.2,-47.00),(2009.4,-47.09),(2009.6,-47.02),(2009.8,-47.08),(2010.0,-47.02),(2010.2,-47.12),(2010.4,-47.05),(2010.6,-47.14),(2010.8,-47.08),(2011.0,-47.16),(2011.2,-47.10),(2011.4,-47.18),(2011.6,-47.11),(2011.8,-47.19),(2012.0,-47.12),(2012.2,-47.18),(2012.4,-47.09),(2012.6,-47.16),(2012.8,-47.11),(2013.0,-47.22),(2013.2,-47.16),(2013.4,-47.28),(2013.55,-46.86),(2013.7,-47.18),(2013.85,-47.22),(2014.0,-47.15),(2014.2,-47.21),(2014.4,-47.14),(2014.6,-47.20),(2014.8,-47.15),(2015.0,-47.24),(2015.2,-47.17),(2015.4,-47.27),(2015.6,-47.18),(2015.8,-47.22),(2016.0,-47.15),(2016.2,-47.19),(2016.5,-47.13),(2016.8,-47.17)]
smo_det_run = [(1998.0,0.14),(1998.1,0.2),(1998.2,0.03),(1998.3,0.1),(1998.45,-0.02),(1998.55,-0.16),(1998.7,0.0),(1998.85,-0.06),(1999.0,-0.02),(1999.15,-0.1),(1999.3,0.03),(1999.45,0.01),(1999.6,0.05),(1999.75,-0.06),(1999.9,-0.03),(2000.05,-0.08),(2000.2,0.02),(2000.35,0.04),(2000.5,-0.01),(2000.65,-0.07),(2000.8,-0.04),(2000.95,-0.15),(2001.1,-0.02),(2001.25,0.02),(2001.4,0.04),(2001.55,-0.03),(2001.7,0.0),(2001.85,0.05),(2002.0,-0.04),(2002.15,0.03),(2002.3,0.06),(2002.45,-0.02),(2002.6,0.01),(2002.75,-0.03),(2002.9,0.06),(2003.05,0.02),(2003.2,0.09),(2003.35,0.0),(2003.5,0.07),(2003.65,0.1),(2003.8,0.03),(2003.95,-0.02),(2004.1,0.04),(2004.25,0.06),(2004.4,0.02),(2004.55,0.12),(2004.7,0.0),(2004.85,-0.04),(2005.0,0.02),(2005.15,-0.06),(2005.3,-0.02),(2005.45,0.03),(2005.6,0.0),(2005.75,-0.05),(2005.9,0.03),(2006.05,0.05),(2006.2,0.0),(2006.35,-0.03),(2006.5,0.04),(2006.65,-0.04),(2006.8,0.0),(2006.95,-0.06),(2007.1,0.04),(2007.25,0.06),(2007.4,0.01),(2007.55,-0.03),(2007.7,0.03),(2007.85,-0.05),(2008.0,0.02),(2008.15,-0.02),(2008.3,0.05),(2008.42,0.29),(2008.5,-0.02),(2008.65,0.04),(2008.8,-0.04),(2008.95,0.0),(2009.1,-0.03),(2009.25,0.02),(2009.4,0.06),(2009.55,0.01),(2009.7,0.05),(2009.85,-0.04),(2010.0,0.01),(2010.15,-0.05),(2010.3,0.05),(2010.45,0.0),(2010.6,0.04),(2010.75,-0.03),(2010.9,0.01),(2011.05,-0.06),(2011.2,-0.02),(2011.35,-0.03),(2011.5,0.03),(2011.65,-0.05),(2011.8,0.0),(2011.95,-0.02),(2012.1,0.04),(2012.25,0.07),(2012.4,0.03),(2012.55,-0.05),(2012.7,0.02),(2012.85,-0.03),(2013.0,0.05),(2013.15,-0.1),(2013.3,0.03),(2013.45,-0.04),(2013.6,0.02),(2013.75,-0.02),(2013.9,0.1),(2014.05,0.0),(2014.2,0.04),(2014.35,-0.02),(2014.5,0.03),(2014.65,-0.01),(2014.8,0.02)]
smo_growth = [(1998.98,-0.076),(1999.3,-0.058),(1999.62,-0.026),(1999.94,-0.009),(2000.19,-0.044),(2000.51,-0.023),(2000.83,0.012),(2001.14,0.035),(2001.37,0.060),(2001.62,0.044),(2001.84,0.016),(2002.16,-0.002),(2002.48,-0.016),(2002.73,-0.023),(2003.05,0.002),(2003.37,0.039),(2003.62,0.063),(2003.87,0.048),(2004.16,0.016),(2004.48,0.005),(2004.7,-0.030),(2004.95,-0.062),(2005.27,-0.095),(2005.59,-0.071),(2005.9,-0.018),(2006.29,0.037),(2006.6,0.016),(2006.92,-0.012),(2007.17,0.009),(2007.49,0.041),(2007.75,0.058),(2008.06,0.071),(2008.29,0.039),(2008.51,-0.044),(2008.76,-0.106),(2009.08,-0.093),(2009.33,-0.071),(2009.65,-0.030),(2010.03,-0.026),(2010.35,-0.067),(2010.67,-0.069),(2011.05,-0.055),(2011.46,-0.023),(2012.0,0.016),(2012.32,0.002),(2012.63,-0.009),(2012.95,-0.034),(2013.27,-0.041),(2013.68,-0.009),(2014.0,0.028),(2014.32,-0.007),(2014.63,-0.012),(2014.86,-0.025),(2015.17,0.002),(2015.49,0.023),(2015.81,0.028),(2016.0,0.012)]
smo_det_growth = [(1998.98,-0.074),(1999.3,-0.055),(1999.62,-0.023),(1999.94,-0.005),(2000.19,-0.041),(2000.51,-0.019),(2000.83,0.016),(2001.14,0.041),(2001.37,0.064),(2001.62,0.048),(2001.84,0.019),(2002.16,0.0),(2002.48,-0.014),(2002.73,-0.019),(2003.05,0.004),(2003.37,0.041),(2003.62,0.062),(2003.87,0.044),(2004.16,0.032),(2004.48,0.009),(2004.7,-0.023),(2004.95,-0.055),(2005.27,-0.090),(2005.59,-0.062),(2005.9,-0.009),(2006.29,0.046),(2006.6,0.026),(2006.92,-0.005),(2007.17,0.016),(2007.49,0.062),(2007.75,0.088),(2008.06,0.099),(2008.29,0.062),(2008.51,-0.026),(2008.76,-0.090),(2009.08,-0.079),(2009.33,-0.055),(2009.65,-0.012),(2010.03,-0.009),(2010.35,-0.041),(2010.67,-0.037),(2011.05,-0.018),(2011.46,0.002),(2012.0,0.044),(2012.32,0.023),(2012.63,0.009),(2012.95,-0.012),(2013.27,-0.019),(2013.68,0.009),(2014.0,0.048),(2014.32,0.016),(2014.63,0.009),(2014.86,0.002),(2015.17,0.023),(2015.49,0.041),(2015.81,0.046),(2016.0,0.032)]

# ---------------- STYLE ----------------
W, H = 2067, 2644
X0, X1 = 426, 1709
XMIN, XMAX = 1986.0, 2016.92
LPOS = (245 - X0) / (X1 - X0)
RPOS = (1741 - X0) / (X1 - X0)
RPOS_A = (1903 - X0) / (X1 - X0)

C_MEI, C_MEI_N = '#1414f0', '#4fd3ee'
C_ONI, C_ONI_N = '#f01010', '#f07a22'
C_SOI, C_SOI_N = '#9400d3', '#f59af2'
C_EMI, C_EMI_N = '#000000', '#8c8c8c'
C_NAVY, C_STRAT, C_TG, C_SG = '#0b2f8c', '#9c9cf0', '#ff6a00', '#f03c96'
C_GRN, C_GRN_MM, C_ORG, C_GRY = '#00993a', '#a8f2a8', '#cc6633', '#999999'

fig = plt.figure(figsize=(W / 100, H / 100), dpi=100)


def pt(p):
    return p * 0.72


def fx(x):
    return x / W


def fy(y):
    return 1 - y / H


def make_panel(ytop, ybot, labels=False):
    ax = fig.add_axes([fx(X0), fy(ybot), (X1 - X0) / W, (ybot - ytop) / H])
    ax.set_facecolor('none')
    ax.set_xlim(XMIN, XMAX)
    ax.set_ylim(0, 1)
    for s in ['left', 'right', 'top']:
        ax.spines[s].set_visible(False)
    ax.spines['bottom'].set_color('#808080')
    ax.spines['bottom'].set_linewidth(1.3)
    ax.set_yticks([])
    ax.set_xticks(major_years)
    ax.set_xticks(minor_years, minor=True)
    ax.tick_params(axis='x', which='major', direction='out', length=pt(54), width=1,
                   color='#555555', labelsize=25, pad=pt(30))
    ax.tick_params(axis='x', which='minor', direction='out', length=pt(28), width=1, color='#555555')
    if labels:
        ax.set_xticklabels(date_labels)
    else:
        ax.set_xticklabels([])
    return ax


def add_scale(ax, lim, side, pos, color, major, labels, minor, long=55, short=27,
              spine=True, spine_color=None):
    t = ax.twinx()
    t.set_facecolor('none')
    t.patch.set_visible(False)
    t.set_ylim(*lim)
    for s in ['top', 'bottom', 'left', 'right']:
        t.spines[s].set_visible(False)
    if side == 'left':
        t.yaxis.tick_left()
        sp = t.spines['left']
    else:
        t.yaxis.tick_right()
        sp = t.spines['right']
    sp.set_position(('axes', pos))
    sp.set_visible(spine)
    sp.set_color(spine_color or color)
    sp.set_linewidth(1.0)
    t.set_yticks(major)
    t.set_yticklabels(labels)
    t.set_yticks(minor, minor=True)
    t.tick_params(axis='y', which='major', direction='out', length=pt(long), width=2.3,
                  color=color, labelcolor=color, labelsize=25, pad=pt(24))
    t.tick_params(axis='y', which='minor', direction='out', length=pt(short), width=2.3, color=color)
    return t


def pl(ax, scale, data, color, lw, **kw):
    arr = np.array(data, dtype=float)
    ax.plot(arr[:, 0], arr[:, 1], transform=scale.transData, color=color, lw=lw,
            clip_on=False, solid_joinstyle='round', **kw)


def txt(x, y, s, color='k', size=25, weight='normal', ha='left', rot=0, **kw):
    fig.text(fx(x), fy(y), s, color=color, fontsize=size, fontweight=weight,
             ha=ha, va='center', rotation=rot, **kw)


# ---------------- (a) ENSO ----------------
axa = make_panel(47, 368)
s_mei = add_scale(axa, (-2, 3), 'left', LPOS, C_MEI, [3, 2, 1, 0, -1, -2],
                  ['3', '2', '1', '0', '-1', '-2'], [2.5, 1.5, 0.5, -0.5, -1.5], long=55, short=28)
s_oni = add_scale(axa, (-2.5, 2.5), 'right', LPOS, C_ONI, [2, 1, 0, -1, -2],
                  ['2', '1', '0', '-1', '-2'], [2.5, 1.5, 0.5, -0.5, -1.5, -2.5], spine=False)
s_emi = add_scale(axa, (-1.5, 1.5), 'left', RPOS_A, C_EMI, [1, 0, -1], ['1', '0', '-1'],
                  [1.5, 0.5, -0.5, -1.5], long=33, short=18)
s_soi = add_scale(axa, (5.5, -5.5), 'right', RPOS_A, C_SOI, [-4, -2, 0, 2, 4],
                  ['-4', '-2', '0', '2', '4'], [-5, -3, -1, 1, 3, 5], long=33, short=18, spine=False)

pl(axa, s_soi, soi_nom, C_SOI_N, 0.9)
pl(axa, s_mei, mei_nom, C_MEI_N, 0.9)
pl(axa, s_oni, oni_nom, C_ONI_N, 0.9)
pl(axa, s_emi, emi_nom, C_EMI_N, 0.9)
axa.plot([XMIN, XMAX], [0, 0], transform=s_oni.transData, color='k', lw=3.2,
         dashes=(7, 6), clip_on=False)
pl(axa, s_soi, soi_run, C_SOI, 3.4)
pl(axa, s_oni, oni_run, C_ONI, 3.4)
pl(axa, s_mei, mei_run, C_MEI, 3.4)
pl(axa, s_emi, emi_run, C_EMI, 3.2)

txt(430, 48, '(a)  ENSO', size=33, weight='bold')
txt(600, 300, 'MEI run', C_MEI, 27)
txt(600, 342, 'MEI nom', '#27c8ea', 27)
txt(778, 300, 'ONI run', C_ONI, 27)
txt(778, 342, 'ONI nom', C_ONI_N, 27)
txt(1087, 300, 'SOI run', C_SOI, 27)
txt(1087, 342, 'SOI nom', C_SOI_N, 27)
txt(1533, 300, 'EMI run', 'k', 27)
txt(1533, 342, 'EMI nom', '#999999', 27)
txt(89, 207, 'MEI', C_MEI, 32, 'bold', ha='center', rot=90)
txt(396, 207, 'ONI', C_ONI, 32, 'bold', ha='center', rot=90)
txt(1769, 207, 'EMI', 'k', 32, 'bold', ha='center', rot=90)
txt(2030, 207, 'SOI', C_SOI, 32, 'bold', ha='center', rot=90)

# ---------------- (b) LAU HCN ----------------
axb = make_panel(474, 795)
s_hcn = add_scale(axb, (2696.6, 4500), 'left', LPOS, C_NAVY, [4500, 4000, 3500, 3000],
                  ['4500', '4000', '3500', '3000'], [4250, 3750, 3250, 2750], long=57, short=29)
s_str = add_scale(axb, (700, 900), 'right', LPOS, C_STRAT, [900, 850, 800, 750, 700],
                  ['900', '850', '800', '750', '700'], [875, 825, 775, 725], spine=False)
s_hg = add_scale(axb, (-401.7, 500), 'right', RPOS, 'k', [500, 250, 0, -250],
                 ['500', '250', '0', '-250'], [375, 125, -125, -375])
pl(axb, s_str, hcn_strat, C_STRAT, 2.6)
pl(axb, s_hg, hcn_strat_growth, C_SG, 2.6)
pl(axb, s_hg, hcn_total_growth, C_TG, 2.6)
pl(axb, s_hcn, hcn_total, C_NAVY, 4.8)

txt(430, 493, '(b)  LAU HCN', size=33, weight='bold')
txt(673, 630, 'Total column', C_NAVY, 25.5)
txt(673, 672, 'Stratosphere', C_STRAT, 25.5)
txt(673, 713, 'Total growth', C_TG, 25.5)
txt(673, 755, 'Strat. growth', '#ff00ff', 25.5)
txt(43, 635, r'HCN (Pmolec./cm$\mathbf{^{-2}}$)', 'k', 32, 'bold', ha='center', rot=90)
fig.text(fx(1975), fy(638), 'HCN growth\n' + r'(Pmolec./cm$\mathbf{^{-2}}$)', color='k',
         fontsize=32, fontweight='bold', ha='center', va='center', rotation=90,
         multialignment='center', linespacing=1.0)


# ---------------- delta13C panels helper ----------------
def d13_panel(ytop, ybot, glim, gmaj, gmin, olim, omaj, omin, rlim, rmaj, rmin, xlabels=False):
    ax = make_panel(ytop, ybot, labels=xlabels)
    sg = add_scale(ax, glim, 'left', LPOS, C_GRN, gmaj, [('%g' % v) for v in gmaj], gmin,
                   long=55, short=28)
    so = add_scale(ax, olim, 'right', LPOS, C_ORG, omaj, [('%g' % v) for v in omaj], omin,
                   spine=False)
    sr = add_scale(ax, rlim, 'right', RPOS, 'k', rmaj, [('%g' % v) for v in rmaj], rmin)
    return ax, sg, so, sr


def d13_labels(yc, x_right=1951):
    txt(40, yc, 'δ¹³C (‰)', 'k', 32, 'bold', ha='center', rot=90)
    txt(x_right, yc, 'δ¹³C growth (‰)', 'k', 32, 'bold', ha='center', rot=90)


# ---------------- (c) Global ----------------
axc, cg, co, cr = d13_panel(902, 1223, (-47.45, -47.15), [-47.2, -47.3, -47.4],
                            [-47.15, -47.25, -47.35, -47.45],
                            (-0.05, 0.025), [0.025, 0, -0.025, -0.05], [0.0125, -0.0125, -0.0375],
                            (-0.1, 0.0697), [0.05, 0, -0.05, -0.1], [0.025, -0.025, -0.075])
pl(axc, cr, list(zip(glob_t, glob_det_growth)), C_GRY, 2.4)
pl(axc, cr, list(zip(glob_t, glob_growth)), 'k', 2.4)
pl(axc, co, list(zip(glob_t, glob_detrended)), C_ORG, 2.4)
pl(axc, cg, list(zip(glob_t, glob_nominal)), C_GRN, 5.5)
txt(432, 940, '(c) Global δ¹³C', size=31, weight='bold')
txt(909, 1148, 'Nominal', C_GRN, 27)
txt(909, 1190, 'Detrended', C_ORG, 27)
txt(1120, 1158, 'Growth', 'k', 25)
txt(1131, 1200, 'Det. growth', C_GRY, 25)
d13_labels(1063)

# ---------------- (d) BHD ----------------
axd, dg, do, dr = d13_panel(1329, 1650, (-47.35, -47.05), [-47.1, -47.2, -47.3],
                            [-47.05, -47.15, -47.25, -47.35],
                            (-0.251, 0.18), [0.1, 0, -0.1, -0.2], [0.15, 0.05, -0.05, -0.15, -0.25],
                            (-0.1, 0.1), [0.1, 0.05, 0, -0.05, -0.1], [0.075, 0.025, -0.025, -0.075])
pl(axd, dg, bhd_nom_mm, C_GRN_MM, 0.7)
pl(axd, dr, bhd_det_growth, C_GRY, 2.6)
pl(axd, dr, bhd_growth, 'k', 2.6)
pl(axd, do, bhd_det_run, C_ORG, 2.4)
pl(axd, dg, bhd_nom_run, C_GRN, 4.2)
txt(431, 1378, '(d) BHD δ¹³C', size=31, weight='bold')
for i, (s, c) in enumerate([('Nominal run', C_GRN), ('Nominal mm', '#00ee00'),
                            ('Detrended run', C_ORG), ('Growth', 'k'), ('Det. growth', C_GRY)]):
    txt(426, 1458 + i * 38.5, s, c, 24)
d13_labels(1492)

# ---------------- (e) ASC ----------------
axe, eg, eo, er = d13_panel(1757, 2078, (-47.25, -46.9), [-46.9, -47, -47.1, -47.2],
                            [-46.95, -47.05, -47.15, -47.25],
                            (-0.1505, 0.1695), [0.1, 0, -0.1], [0.15, 0.05, -0.05, -0.15],
                            (-0.1, 0.1), [0.1, 0.05, 0, -0.05, -0.1], [0.075, 0.025, -0.025, -0.075])
pl(axe, eg, asc_nom_mm, C_GRN_MM, 0.7)
pl(axe, er, asc_det_growth, C_GRY, 2.6)
pl(axe, er, asc_growth, 'k', 2.6)
pl(axe, eo, asc_det_run, C_ORG, 2.4)
pl(axe, eg, asc_nom_run, C_GRN, 4.2)
txt(431, 1802, '(e) ASC δ¹³C', size=31, weight='bold')
for i, (s, c) in enumerate([('Nominal run', C_GRN), ('Nominal mm', '#00ee00'),
                            ('Detrended run', C_ORG), ('Growth', 'k'), ('Det. growth', C_GRY)]):
    txt(672, 1885 + i * 38.5, s, c, 24)
d13_labels(1918)

# ---------------- (f) SMO ----------------
axf, fg, fo, fr = d13_panel(2185, 2506, (-47.25, -46.9), [-46.9, -47, -47.1, -47.2],
                            [-46.95, -47.05, -47.15, -47.25],
                            (-0.175, 0.2), [0.2, 0.1, 0, -0.1], [0.15, 0.05, -0.05, -0.15],
                            (-0.1, 0.0698), [0.05, 0, -0.05, -0.1], [0.025, -0.025, -0.075],
                            xlabels=True)
pl(axf, fg, smo_nom_mm, C_GRN_MM, 0.7)
pl(axf, fr, smo_det_growth, C_GRY, 2.6)
pl(axf, fr, smo_growth, 'k', 2.6)
pl(axf, fo, smo_det_run, C_ORG, 2.4)
pl(axf, fg, smo_nom_run, C_GRN, 4.2)
txt(431, 2238, '(f)  SMO δ¹³C', size=31, weight='bold')
for i, (s, c) in enumerate([('Nominal run', C_GRN), ('Nominal mm', '#00ee00'),
                            ('Detrended run', C_ORG), ('Growth', 'k'), ('Det. growth', C_GRY)]):
    txt(688, 2309 + i * 38.5, s, c, 24)
d13_labels(2345)

fig.savefig('out.png', dpi=100)
